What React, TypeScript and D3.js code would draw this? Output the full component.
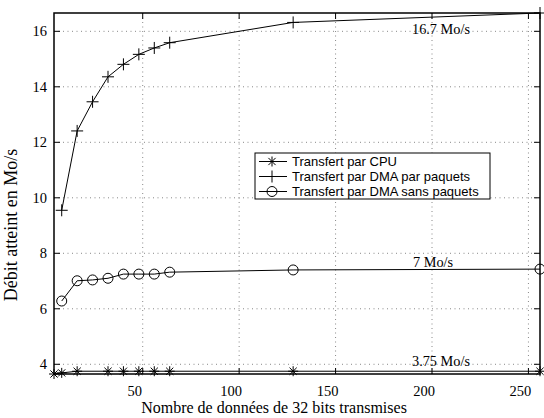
import React from "react";
import * as d3 from "d3";

const xsCPU = [4, 8, 16, 32, 40, 48, 56, 64, 128, 256];
const cpu = [3.65, 3.69, 3.75, 3.75, 3.75, 3.75, 3.75, 3.75, 3.75, 3.75];
const xsDMA = [8, 16, 24, 32, 40, 48, 56, 64, 128, 256];
const dmaPaquets = [9.55, 12.41, 13.46, 14.36, 14.81, 15.17, 15.4, 15.59, 16.32, 16.66];
const dmaSans = [6.28, 7.01, 7.04, 7.1, 7.25, 7.25, 7.25, 7.32, 7.4, 7.43];
const xTicks = [50, 100, 150, 200, 250];
const yTicks = [4, 6, 8, 10, 12, 14, 16];
const legendLabels = ["Transfert par CPU", "Transfert par DMA par paquets", "Transfert par DMA sans paquets"];
const annotationTexts = ["16.7 Mo/s", "7 Mo/s", "3.75 Mo/s"];

const W = 544, H = 418;
const L = 54, R = 540, T = 13, B = 374;
const serif = "'Liberation Serif', 'Times New Roman', serif";
const sans = "'Liberation Sans', Arial, sans-serif";

function Star({ x, y }: { x: number; y: number }) {
  const s = 5;
  const d = 3.6;
  return (
    <g stroke="#000" strokeWidth={1}>
      <line x1={x - s} y1={y} x2={x + s} y2={y} />
      <line x1={x} y1={y - s} x2={x} y2={y + s} />
      <line x1={x - d} y1={y - d} x2={x + d} y2={y + d} />
      <line x1={x - d} y1={y + d} x2={x + d} y2={y - d} />
    </g>
  );
}
function Plus({ x, y }: { x: number; y: number }) {
  const s = 6;
  return (
    <g stroke="#000" strokeWidth={1}>
      <line x1={x - s} y1={y} x2={x + s} y2={y} />
      <line x1={x} y1={y - s} x2={x} y2={y + s} />
    </g>
  );
}
function Circ({ x, y }: { x: number; y: number }) {
  return <circle cx={x} cy={y} r={5} fill="none" stroke="#000" strokeWidth={1} />;
}

export default function App() {
  const x = d3.scaleLinear().domain([4, 256]).range([L, R]);
  const y = d3.scaleLinear().domain([3.65, 16.66]).range([B, T]);
  const line = d3.line<[number, number]>().x((d) => x(d[0])).y((d) => y(d[1]));
  const cpuPts: [number, number][] = xsCPU.map((v, i) => [v, cpu[i]]);
  const pPts: [number, number][] = xsDMA.map((v, i) => [v, dmaPaquets[i]]);
  const sPts: [number, number][] = xsDMA.map((v, i) => [v, dmaSans[i]]);

  const lx = 255, ly = 153, lw = 235, lh = 46;
  const annY = [34, 267, 366];
  const annX = [412, 413, 412];

  return (
    <svg width={W} height={H} style={{ position: "absolute", left: 0, top: 0, background: "#fff" }}>
      <rect width={W} height={H} fill="#fff" />
      {xTicks.map((t) => (
        <line key={"gx" + t} x1={x(t)} x2={x(t)} y1={T} y2={B} stroke="#888" strokeWidth={1} strokeDasharray="1,3.5" />
      ))}
      {yTicks.map((t) => (
        <line key={"gy" + t} x1={L} x2={R} y1={y(t)} y2={y(t)} stroke="#888" strokeWidth={1} strokeDasharray="1,3.5" />
      ))}
      {annotationTexts.map((a, i) => (
        <text key={"an" + i} x={annX[i]} y={annY[i]} fontFamily={serif} fontSize={14.3} fill="#000">{a}</text>
      ))}
      <path d={line(cpuPts) || ""} fill="none" stroke="#000" strokeWidth={1} />
      <path d={line(pPts) || ""} fill="none" stroke="#000" strokeWidth={1} />
      <path d={line(sPts) || ""} fill="none" stroke="#000" strokeWidth={1} />
      {cpuPts.map((p, i) => <Star key={"s" + i} x={x(p[0])} y={y(p[1])} />)}
      {pPts.map((p, i) => <Plus key={"p" + i} x={x(p[0])} y={y(p[1])} />)}
      {sPts.map((p, i) => <Circ key={"c" + i} x={x(p[0])} y={y(p[1])} />)}
      <rect x={L} y={T} width={R - L} height={B - T} fill="none" stroke="#000" strokeWidth={1.5} />
      {xTicks.map((t) => (
        <g key={"tx" + t} stroke="#000" strokeWidth={1}>
          <line x1={x(t)} x2={x(t)} y1={B} y2={B - 6} />
          <line x1={x(t)} x2={x(t)} y1={T} y2={T + 6} />
        </g>
      ))}
      {yTicks.map((t) => (
        <g key={"ty" + t} stroke="#000" strokeWidth={1}>
          <line x1={L} x2={L + 6} y1={y(t)} y2={y(t)} />
          <line x1={R} x2={R - 6} y1={y(t)} y2={y(t)} />
        </g>
      ))}
      {xTicks.map((t) => (
        <text key={"lx" + t} x={x(t) - 8} y={396} textAnchor="middle" fontFamily={serif} fontSize={14.5}>{t}</text>
      ))}
      {yTicks.map((t) => (
        <text key={"ly" + t} x={47} y={y(t) + 5} textAnchor="end" fontFamily={serif} fontSize={14.5}>{t}</text>
      ))}
      <text x={274} y={413} textAnchor="middle" fontFamily={serif} fontSize={16}>Nombre de données de 32 bits transmises</text>
      <text transform="translate(17,225) rotate(-90)" textAnchor="middle" fontFamily={serif} fontSize={18}>Débit atteint en Mo/s</text>
      <rect x={lx} y={ly} width={lw} height={lh} fill="#fff" stroke="#000" strokeWidth={1} />
      {legendLabels.map((lab, i) => {
        const yy = ly + 8.5 + i * 15;
        return (
          <g key={"lg" + i}>
            <line x1={lx + 4} x2={lx + 32} y1={yy} y2={yy} stroke="#000" strokeWidth={1} />
            {i === 0 && <Star x={lx + 17} y={yy} />}
            {i === 1 && <Plus x={lx + 17} y={yy} />}
            {i === 2 && <Circ x={lx + 17} y={yy} />}
            <text x={lx + 37} y={yy + 4.5} fontFamily={sans} fontSize={13}>{lab}</text>
          </g>
        );
      })}
    </svg>
  );
}
